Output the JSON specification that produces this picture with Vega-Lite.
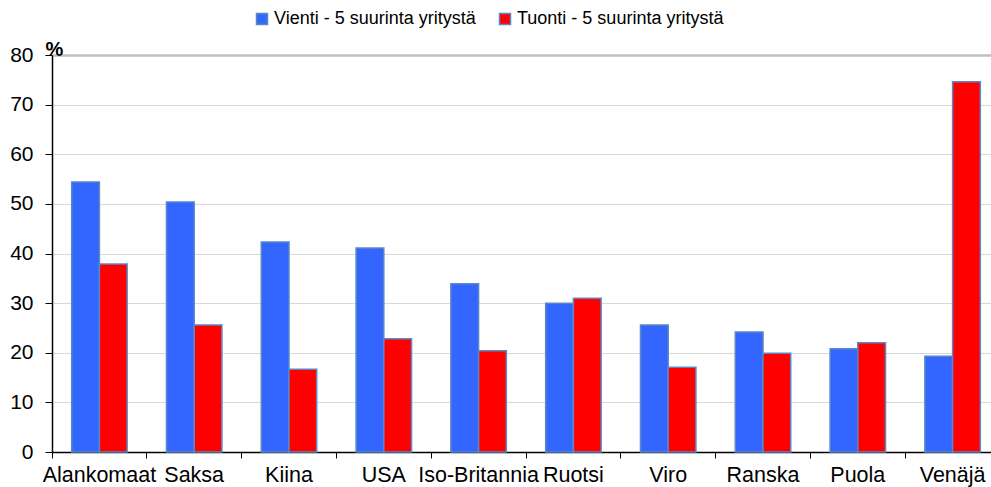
{
  "$schema": "https://vega.github.io/schema/vega-lite/v6.json",
  "autosize": {"type": "none"},
  "padding": {"left": 52, "top": 55, "right": 0, "bottom": 35},
  "width": 939,
  "height": 397,
  "background": "white",
  "config": {
    "font": "Liberation Sans",
    "view": {"stroke": null}
  },
  "data": {
    "values": [
      {"maa": "Alankomaat", "sarja": "Vienti - 5 suurinta yritystä", "arvo": 54.4},
      {"maa": "Alankomaat", "sarja": "Tuonti - 5 suurinta yritystä", "arvo": 37.9},
      {"maa": "Saksa", "sarja": "Vienti - 5 suurinta yritystä", "arvo": 50.4},
      {"maa": "Saksa", "sarja": "Tuonti - 5 suurinta yritystä", "arvo": 25.6},
      {"maa": "Kiina", "sarja": "Vienti - 5 suurinta yritystä", "arvo": 42.3},
      {"maa": "Kiina", "sarja": "Tuonti - 5 suurinta yritystä", "arvo": 16.7},
      {"maa": "USA", "sarja": "Vienti - 5 suurinta yritystä", "arvo": 41.1},
      {"maa": "USA", "sarja": "Tuonti - 5 suurinta yritystä", "arvo": 22.8},
      {"maa": "Iso-Britannia", "sarja": "Vienti - 5 suurinta yritystä", "arvo": 33.9},
      {"maa": "Iso-Britannia", "sarja": "Tuonti - 5 suurinta yritystä", "arvo": 20.4},
      {"maa": "Ruotsi", "sarja": "Vienti - 5 suurinta yritystä", "arvo": 30.0},
      {"maa": "Ruotsi", "sarja": "Tuonti - 5 suurinta yritystä", "arvo": 31.0},
      {"maa": "Viro", "sarja": "Vienti - 5 suurinta yritystä", "arvo": 25.6},
      {"maa": "Viro", "sarja": "Tuonti - 5 suurinta yritystä", "arvo": 17.1},
      {"maa": "Ranska", "sarja": "Vienti - 5 suurinta yritystä", "arvo": 24.2},
      {"maa": "Ranska", "sarja": "Tuonti - 5 suurinta yritystä", "arvo": 19.9},
      {"maa": "Puola", "sarja": "Vienti - 5 suurinta yritystä", "arvo": 20.8},
      {"maa": "Puola", "sarja": "Tuonti - 5 suurinta yritystä", "arvo": 22.0},
      {"maa": "Venäjä", "sarja": "Vienti - 5 suurinta yritystä", "arvo": 19.3},
      {"maa": "Venäjä", "sarja": "Tuonti - 5 suurinta yritystä", "arvo": 74.6}
    ]
  },
  "mark": {"type": "bar", "stroke": "#5A87C6", "strokeWidth": 1.5},
  "encoding": {
    "x": {
      "field": "maa",
      "type": "nominal",
      "sort": null,
      "scale": {"paddingInner": 0, "paddingOuter": 0, "range": [0, 948]},
      "axis": {
        "title": null,
        "bandPosition": 0,
        "labelAngle": 0,
        "labelFontSize": 21.5,
        "labelColor": "black",
        "labelPadding": 6,
        "labelLimit": 300,
        "tickSize": 6,
        "tickColor": "black",
        "domainColor": "black",
        "domainWidth": 1.5,
        "grid": false
      }
    },
    "xOffset": {
      "field": "sarja",
      "type": "nominal",
      "sort": ["Vienti - 5 suurinta yritystä", "Tuonti - 5 suurinta yritystä"],
      "scale": {"paddingInner": 0, "paddingOuter": 0.71}
    },
    "y": {
      "field": "arvo",
      "type": "quantitative",
      "scale": {"domain": [0, 80], "nice": false},
      "axis": {
        "title": "%",
        "titleAngle": 0,
        "titleAlign": "left",
        "titleBaseline": "alphabetic",
        "titleX": -7,
        "titleY": 0,
        "titleFontSize": 20,
        "titleFontWeight": "bold",
        "titleColor": "black",
        "values": [0, 10, 20, 30, 40, 50, 60, 70, 80],
        "labelFontSize": 21,
        "labelColor": "black",
        "labelPadding": 12,
        "tickSize": 7,
        "tickColor": "black",
        "domainColor": "black",
        "domainWidth": 1.5,
        "gridColor": {"condition": {"test": "datum.value === 80", "value": "#C0C0C0"}, "value": "#D9D9D9"},
        "gridWidth": {"condition": {"test": "datum.value === 80", "value": 2.5}, "value": 1}
      }
    },
    "color": {
      "field": "sarja",
      "type": "nominal",
      "sort": ["Vienti - 5 suurinta yritystä", "Tuonti - 5 suurinta yritystä"],
      "scale": {
        "domain": ["Vienti - 5 suurinta yritystä", "Tuonti - 5 suurinta yritystä"],
        "range": ["#3366FF", "#FF0000"]
      },
      "legend": {
        "title": null,
        "orient": "none",
        "direction": "horizontal",
        "legendX": 201,
        "legendY": -45,
        "padding": 0,
        "symbolType": "square",
        "symbolSize": 121,
        "symbolStrokeColor": "#5A87C6",
        "symbolStrokeWidth": 1.5,
        "labelFontSize": 18,
        "labelLimit": 400,
        "labelColor": "black",
        "labelOffset": 3,
        "columnPadding": 20
      }
    }
  }
}
